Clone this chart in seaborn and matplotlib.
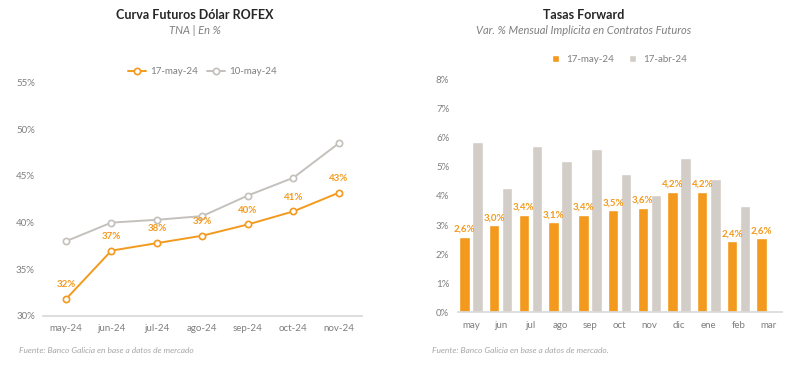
import pandas as pd
import numpy as np
import matplotlib.pyplot as plt
import seaborn as sns

# Curva futuros
meses_fut = ["may-24", "jun-24", "jul-24", "ago-24", "sep-24", "oct-24", "nov-24"]
tna_17may = [31.8, 37.0, 37.8, 38.6, 39.8, 41.2, 43.2]
tna_10may = [38.0, 40.0, 40.3, 40.7, 42.9, 44.8, 48.5]
etiquetas_tna = ["32%", "37%", "38%", "39%", "40%", "41%", "43%"]

# Tasas forward
meses_fwd = ["may", "jun", "jul", "ago", "sep", "oct", "nov", "dic", "ene", "feb", "mar"]
fwd_17may = [2.6, 3.0, 3.35, 3.1, 3.35, 3.5, 3.6, 4.15, 4.15, 2.45, 2.55]
fwd_17abr = [5.86, 4.26, 5.71, 5.21, 5.6, 4.75, 4.03, 5.29, 4.57, 3.65, np.nan]
etiquetas_fwd = ["2,6%", "3,0%", "3,4%", "3,1%", "3,4%", "3,5%", "3,6%", "4,2%", "4,2%", "2,4%", "2,6%"]

naranja = "#F39A1E"
gris_linea = "#C4C0BC"
gris_barra = "#D3CDC7"
gris_texto = "#7F7F7F"

sns.set_theme(style="white")
plt.rcParams['font.family'] = ['Lato', 'DejaVu Sans']

fig = plt.figure(figsize=(8, 3.7), dpi=100)

# ---- left chart
ax1 = fig.add_axes([0.054, 0.146, 0.398, 0.631])
estilo = dict(marker="o", markersize=4.5, markerfacecolor="white", markeredgewidth=1.2,
              linewidth=1.4)
sns.lineplot(x=meses_fut, y=tna_17may, color=naranja, markeredgecolor=naranja,
             label="17-may-24", ax=ax1, **estilo)
sns.lineplot(x=meses_fut, y=tna_10may, color=gris_linea, markeredgecolor=gris_linea,
             label="10-may-24", ax=ax1, **estilo)
for i, (v, t) in enumerate(zip(tna_17may, etiquetas_tna)):
    ax1.annotate(t, (i, v), xytext=(0, 7), textcoords="offset points",
                 ha="center", va="bottom", fontsize=7, color=naranja, fontweight="bold")
ax1.set_xlim(-0.5, 6.5)
ax1.set_ylim(30, 55)
ax1.set_yticks([30, 35, 40, 45, 50, 55])
ax1.set_yticklabels([f"{v}%" for v in [30, 35, 40, 45, 50, 55]])
ax1.set_xlabel("")
ax1.set_ylabel("")
sns.despine(ax=ax1, left=True)
ax1.spines["bottom"].set_color("#D9D9D9")
ax1.tick_params(axis="both", length=0, labelsize=7, colors=gris_texto, pad=6)
ax1.legend(loc="lower center", bbox_to_anchor=(0.5, 0.99), ncol=2, frameon=False,
           fontsize=7, handlelength=1.8, handletextpad=0.4, columnspacing=1.0,
           labelcolor=gris_texto)

# ---- right chart
ax2 = fig.add_axes([0.572, 0.156, 0.405, 0.629])
df2 = pd.DataFrame({"mes": meses_fwd * 2,
                    "tasa": fwd_17may + fwd_17abr,
                    "serie": ["17-may-24"] * 11 + ["17-abr-24"] * 11})
sns.barplot(data=df2, x="mes", y="tasa", hue="serie", palette=[naranja, gris_barra],
            width=0.88, gap=0.2, saturation=1, ax=ax2)
ax2.bar_label(ax2.containers[0], labels=etiquetas_fwd, padding=2, fontsize=7,
              color=naranja, fontweight="bold")
ax2.set_xlim(-0.45, 10.45)
ax2.set_ylim(0, 8)
ax2.set_yticks(range(0, 9))
ax2.set_yticklabels([f"{v}%" for v in range(0, 9)])
ax2.set_xlabel("")
ax2.set_ylabel("")
sns.despine(ax=ax2, left=True)
ax2.spines["bottom"].set_color("#D9D9D9")
ax2.tick_params(axis="both", length=0, labelsize=7, colors=gris_texto, pad=6)
ax2.legend(loc="lower center", bbox_to_anchor=(0.5, 1.03), ncol=2, frameon=False,
           fontsize=7, handlelength=0.7, handleheight=0.7, columnspacing=1.5,
           labelcolor=gris_texto)

# titles and sources
fig.text(0.244, 0.96, "Curva Futuros Dólar ROFEX", ha="center", va="center",
         fontsize=9, fontweight="bold", color="#262626")
fig.text(0.244, 0.918, "TNA | En %", ha="center", va="center",
         fontsize=8, style="italic", color=gris_texto)
fig.text(0.729, 0.96, "Tasas Forward", ha="center", va="center",
         fontsize=9, fontweight="bold", color="#262626")
fig.text(0.729, 0.918, "Var. % Mensual Implícita en Contratos Futuros", ha="center",
         va="center", fontsize=8, style="italic", color=gris_texto)
fig.text(0.024, 0.052, "Fuente: Banco Galicia en base a datos de mercado", ha="left",
         va="center", fontsize=6, style="italic", color="#A6A6A6")
fig.text(0.54, 0.052, "Fuente: Banco Galicia en base a datos de mercado.", ha="left",
         va="center", fontsize=6, style="italic", color="#A6A6A6")

fig.savefig("out.png", dpi=100, facecolor="white")
